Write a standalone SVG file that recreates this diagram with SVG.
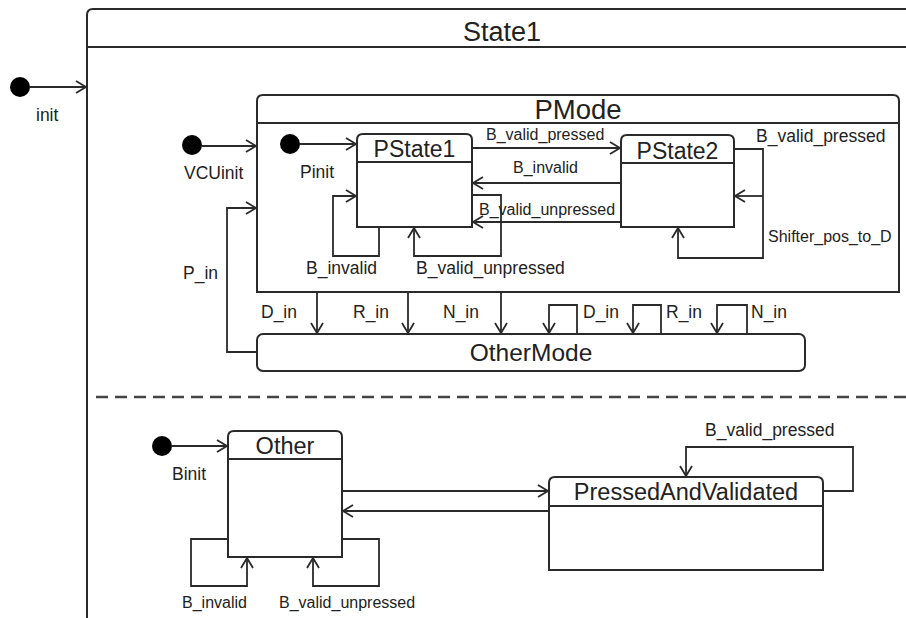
<svg xmlns="http://www.w3.org/2000/svg" width="906" height="618" viewBox="0 0 906 618">
<style>
.box{fill:none;stroke:#2a2a2a;stroke-width:2}
.sep{stroke:#2a2a2a;stroke-width:2;fill:none}
.c{fill:none;stroke:#2a2a2a;stroke-width:1.8}
.ca{fill:none;stroke:#2a2a2a;stroke-width:1.8;marker-end:url(#arr)}
.dot{fill:#000}
text{font-family:"Liberation Sans",Arial,sans-serif;fill:#222}
.t{text-anchor:middle}
.s{font-size:16px}
.m{font-size:17.5px}
</style>
<defs>
<marker id="arr" markerUnits="userSpaceOnUse" markerWidth="14" markerHeight="16" refX="11" refY="7" orient="auto">
<path d="M1,1 L11,7 L1,13" fill="none" stroke="#2a2a2a" stroke-width="1.8"/>
</marker>
</defs>
<rect width="906" height="618" fill="#fff"/>

<g id="State1">
<path class="box" d="M87,620 V15 Q87,9 93,9 H910" stroke-width="2.5"/>
<line class="sep" x1="87" y1="47" x2="910" y2="47"/>
<text class="t" x="502" y="41" style="font-size:27px">State1</text>
<line x1="96" y1="397" x2="906" y2="397" stroke="#444" stroke-width="2.5" stroke-dasharray="12,7"/>
</g>

<g id="init">
<circle class="dot" cx="20" cy="87" r="10"/>
<text class="m" x="36" y="121">init</text>
</g>

<g id="PMode">
<path class="box" d="M257,292 V101 Q257,95 263,95 H893 Q899,95 899,101 V292 Z"/>
<line class="sep" x1="257" y1="123" x2="899" y2="123"/>
<text class="t" x="578" y="119" style="font-size:27.5px">PMode</text>
</g>

<g id="VCUinit">
<circle class="dot" cx="192" cy="145" r="10"/>
<text class="m" x="184" y="179">VCUinit</text>
</g>

<g id="Pinit">
<circle class="dot" cx="290" cy="144" r="10"/>
<text class="m" x="300" y="178">Pinit</text>
</g>

<g id="PState1">
<path class="box" d="M357,227 V140 Q357,134 363,134 H466 Q472,134 472,140 V227 Z"/>
<line class="sep" x1="357" y1="162" x2="472" y2="162"/>
<text class="t" x="414.5" y="157" style="font-size:23px">PState1</text>
</g>

<g id="PState2">
<path class="box" d="M621,227 V141 Q621,135 627,135 H728 Q734,135 734,141 V227 Z"/>
<line class="sep" x1="621" y1="163" x2="734" y2="163"/>
<text class="t" x="677.5" y="159" style="font-size:23px">PState2</text>
</g>

<g id="OtherMode">
<rect class="box" x="257" y="334" width="548" height="37" rx="6"/>
<text class="t" x="531" y="361" style="font-size:24.5px">OtherMode</text>
</g>

<g id="Binit">
<circle class="dot" cx="162" cy="446" r="10"/>
<text class="m" x="172" y="480">Binit</text>
</g>

<g id="Other">
<path class="box" d="M228,557 V437 Q228,431 234,431 H336 Q342,431 342,437 V557 Z"/>
<line class="sep" x1="228" y1="459" x2="342" y2="459"/>
<text class="t" x="285" y="454" style="font-size:23.5px">Other</text>
</g>

<g id="PressedAndValidated">
<path class="box" d="M549,570 V483 Q549,477 555,477 H817 Q823,477 823,483 V570 Z"/>
<line class="sep" x1="549" y1="506" x2="823" y2="506"/>
<text class="t" x="686" y="500" style="font-size:23.5px">PressedAndValidated</text>
</g>

<g id="connectors">
<path class="ca" d="M30,87 H86"/>
<path class="ca" d="M202,146 H256"/>
<path class="ca" d="M300,144 H356"/>
<path class="ca" d="M257,352 H227 V208 H256"/>
<text class="m" x="183" y="279">P_in</text>

<path class="ca" d="M472,148 H620"/>
<text class="s" x="486" y="140">B_valid_pressed</text>
<path class="ca" d="M621,183 H473"/>
<text class="s" x="513" y="173">B_invalid</text>
<path class="ca" d="M621,222 H473"/>
<text class="s" x="479" y="215">B_valid_unpressed</text>

<path class="ca" d="M379,227 V256 H333 V196 H356"/>
<text class="m" x="306" y="274">B_invalid</text>
<path class="ca" d="M472,195 H501 V256 H414 V228"/>
<text class="m" x="416" y="274">B_valid_unpressed</text>

<path class="ca" d="M734,149 H763 V258 H678 V228"/>
<path class="ca" d="M763,196 H735"/>
<text class="m" x="756" y="142">B_valid_pressed</text>
<text class="s" x="768" y="242">Shifter_pos_to_D</text>

<path class="ca" d="M317,292 V333"/>
<text class="m" x="261" y="318">D_in</text>
<path class="ca" d="M408,292 V333"/>
<text class="m" x="353" y="318">R_in</text>
<path class="ca" d="M501,292 V333"/>
<text class="m" x="443" y="318">N_in</text>

<path class="ca" d="M577,334 V305 H549 V333"/>
<text class="m" x="583" y="318">D_in</text>
<path class="ca" d="M661,334 V305 H633 V333"/>
<text class="m" x="666" y="318">R_in</text>
<path class="ca" d="M747,334 V305 H717 V333"/>
<text class="m" x="751" y="318">N_in</text>

<path class="ca" d="M172,446 H227"/>
<path class="ca" d="M342,491 H548"/>
<path class="ca" d="M549,511 H343"/>
<path class="ca" d="M228,539 H191 V586 H247 V558"/>
<text class="s" x="182" y="608">B_invalid</text>
<path class="ca" d="M342,539 H379 V586 H313 V558"/>
<text class="s" x="279" y="608">B_valid_unpressed</text>
<path class="ca" d="M823,491 H853 V447 H686 V476"/>
<text class="m" x="705" y="436">B_valid_pressed</text>
</g>
</svg>
